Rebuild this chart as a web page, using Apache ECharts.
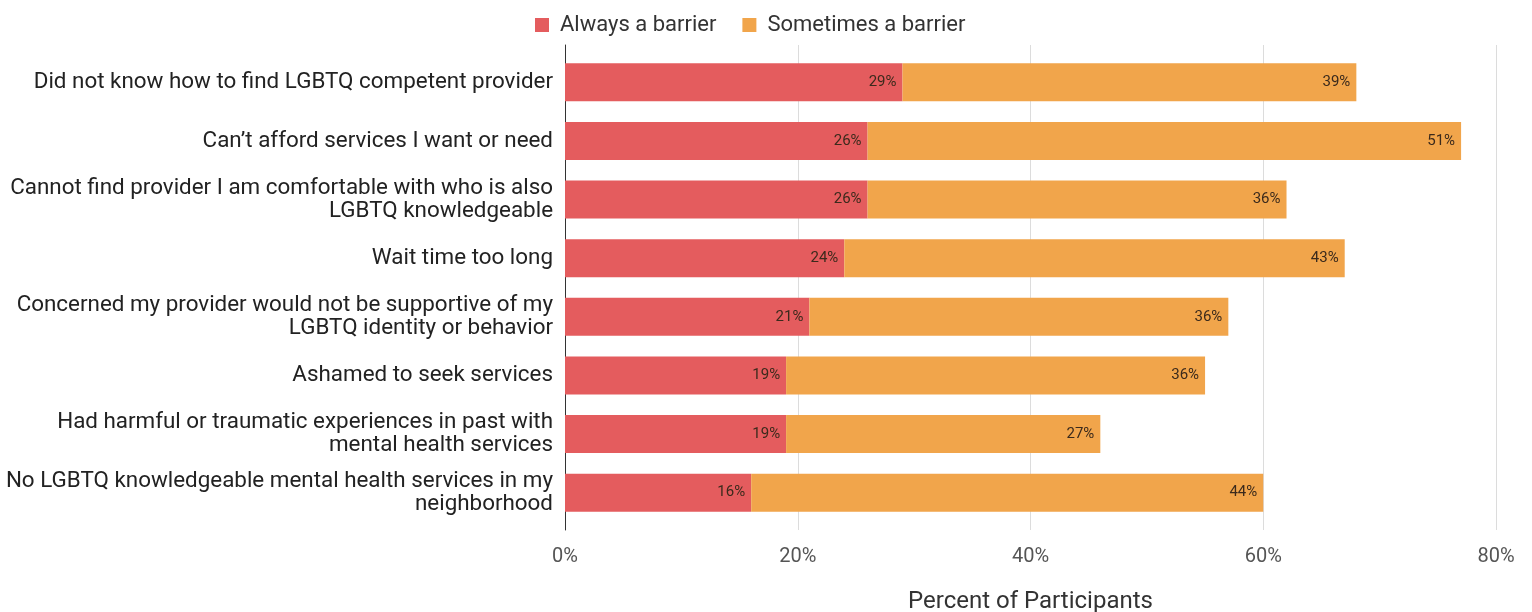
<!DOCTYPE html>
<html>
<head>
<meta charset="utf-8">
<script src="https://cdn.jsdelivr.net/npm/echarts@6/dist/echarts.min.js"></script>
<style>
html,body{margin:0;padding:0;background:#fff;}
#chart{width:1532px;height:612px;}
</style>
</head>
<body>
<div id="chart"></div>
<script>
const categories = [
  "Did not know how to find LGBTQ competent provider",
  "Can\u2019t afford services I want or need",
  "Cannot find provider I am comfortable with who is also\nLGBTQ knowledgeable",
  "Wait time too long",
  "Concerned my provider would not be supportive of my\nLGBTQ identity or behavior",
  "Ashamed to seek services",
  "Had harmful or traumatic experiences in past with\nmental health services",
  "No LGBTQ knowledgeable mental health services in my\nneighborhood"
];
const alwaysBarrier = [29, 26, 26, 24, 21, 19, 19, 16];
const sometimesBarrier = [39, 51, 36, 43, 36, 36, 27, 44];
const xTicks = [0, 20, 40, 60, 80];

const FONT = 'Roboto, "Noto Sans", sans-serif';
const chart = echarts.init(document.getElementById('chart'));
const labelStyle = {
  show: true,
  position: 'insideRight',
  distance: 6,
  formatter: p => p.value + '%',
  color: '#3b2a1c',
  fontSize: 15,
  fontFamily: FONT
};
chart.setOption({
  animation: false,
  textStyle: {fontFamily: FONT},
  legend: {
    top: 9,
    left: 530,
    itemWidth: 14,
    itemHeight: 14,
    itemGap: 26,
    icon: 'rect',
    textStyle: {fontSize: 22, color: '#333', fontFamily: FONT, padding: [0, 0, 0, 6]},
    data: ['Always a barrier', 'Sometimes a barrier']
  },
  grid: [
    {left: 565, right: 36, top: 45, bottom: 82, outerBoundsMode: 'none', containLabel: false},
    {left: 565, right: 36, top: 53, bottom: 90, outerBoundsMode: 'none', containLabel: false}
  ],
  xAxis: [
    {
      gridIndex: 0, type: 'value', min: xTicks[0], max: xTicks[xTicks.length - 1], interval: 20,
      axisLine: {show: false}, axisTick: {show: false},
      splitLine: {show: true, lineStyle: {color: '#dcdcdc', width: 1}},
      axisLabel: {formatter: '{value}%', fontSize: 20, color: '#555', margin: 17, fontFamily: FONT},
      name: 'Percent of Participants', nameLocation: 'middle', nameGap: 60,
      nameTextStyle: {fontSize: 24, color: '#333', fontFamily: FONT}
    },
    {
      gridIndex: 1, type: 'value', min: xTicks[0], max: xTicks[xTicks.length - 1],
      show: false
    }
  ],
  yAxis: [
    {
      gridIndex: 0, type: 'value', min: 0, max: 1,
      axisLine: {show: true, lineStyle: {color: '#333', width: 1}},
      axisTick: {show: false}, axisLabel: {show: false}, splitLine: {show: false}
    },
    {
      gridIndex: 1, type: 'category', data: categories, inverse: true,
      axisLine: {show: false}, axisTick: {show: false}, splitLine: {show: false},
      axisLabel: {fontSize: 22.4, color: '#222', margin: 12, lineHeight: 23, align: 'right', fontFamily: FONT}
    }
  ],
  series: [
    {
      name: 'Always a barrier', type: 'bar', stack: 'total',
      xAxisIndex: 1, yAxisIndex: 1,
      barWidth: '65%',
      itemStyle: {color: '#e45c5e'},
      label: labelStyle,
      data: alwaysBarrier
    },
    {
      name: 'Sometimes a barrier', type: 'bar', stack: 'total',
      xAxisIndex: 1, yAxisIndex: 1,
      barWidth: '65%',
      itemStyle: {color: '#f1a54b'},
      label: labelStyle,
      data: sometimesBarrier
    }
  ]
});
</script>
</body>
</html>
